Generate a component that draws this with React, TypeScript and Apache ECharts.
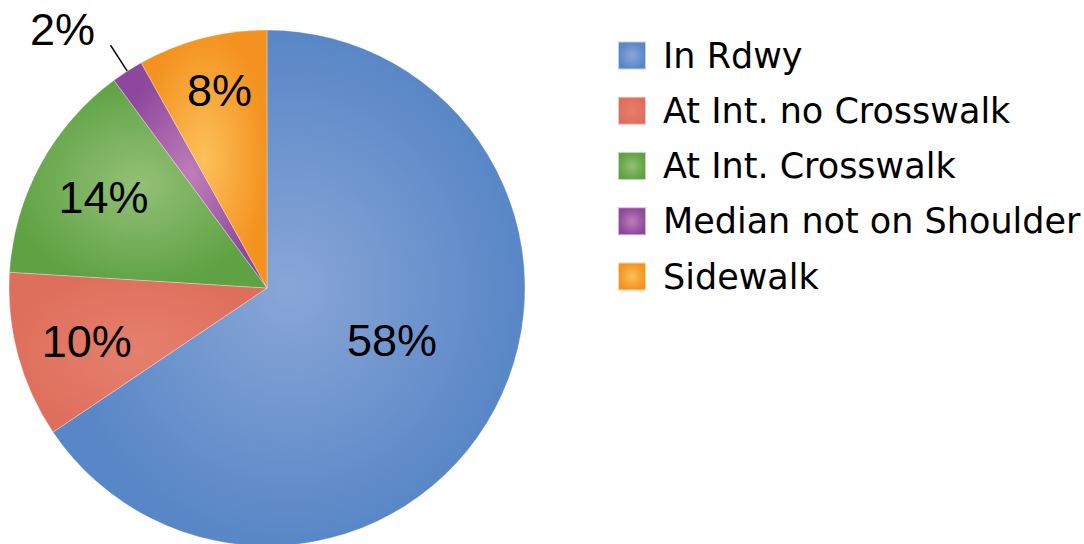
import React, { useEffect, useRef } from 'react';
import * as echarts from 'echarts';

const categories = ['In Rdwy', 'At Int. no Crosswalk', 'At Int. Crosswalk', 'Median not on Shoulder', 'Sidewalk'];
const shares = [65.5, 10.4, 13.9, 2.0, 8.1];
const labelTexts = ['58%', '10%', '14%', '2%', '8%'];

const edgeColors = ['#5886c6', '#df6f5d', '#5fa243', '#8d479c', '#f4921f'];
const centerColors = ['#89a6d7', '#e5806d', '#93c077', '#bf7db8', '#fcc05a'];

const CENTER = [267, 288];
const RADIUS = 258;
const labelRadius = [0.525, 0.728, 0.725, 1.276, 0.788];
const labelAngleShift = [-5.3, -1.2, 0.5, -5.6, 1.1];

export default function App() {
  const ref = useRef<HTMLDivElement>(null);
  useEffect(() => {
    document.body.style.margin = '0';
    const chart = echarts.init(ref.current!, null, { renderer: 'svg' });
    const total = shares.reduce((a, b) => a + b, 0);
    const mids: number[] = [];
    let acc = 0;
    shares.forEach((v) => {
      mids.push(((acc + v / 2) / total) * 360);
      acc += v;
    });
    const polar = (d: number, deg: number) => {
      const t = (deg * Math.PI) / 180;
      return [CENTER[0] + d * Math.sin(t), CENTER[1] - d * Math.cos(t)];
    };
    const grad = (i: number) =>
      new echarts.graphic.RadialGradient(0.5, 0.5, 0.5, [
        { offset: 0, color: centerColors[i] },
        { offset: 1, color: edgeColors[i] },
      ]);

    chart.setOption({
      animation: false,
      legend: {
        orient: 'vertical',
        left: 617,
        top: 36.5,
        padding: 0,
        itemWidth: 28,
        itemHeight: 28,
        itemGap: 17.25,
        icon: 'rect',
        data: categories,
        textStyle: {
          fontFamily: 'DejaVu Sans',
          fontSize: 35,
          lineHeight: 34,
          color: '#000',
          padding: [4, 0, 0, 12],
        },
      },
      series: [
        {
          type: 'pie',
          center: CENTER,
          radius: RADIUS,
          startAngle: 90,
          clockwise: true,
          itemStyle: { borderColor: 'rgba(255,255,255,0.6)', borderWidth: 0.5 },
          label: {
            show: true,
            position: 'inside',
            fontFamily: 'Liberation Sans',
            fontSize: 45,
            color: '#000',
            formatter: (p: any) => labelTexts[p.dataIndex],
          },
          labelLine: { show: false },
          labelLayout: (p: any) => {
            const i = p.dataIndex;
            const [x, y] = polar(labelRadius[i] * RADIUS, mids[i] + labelAngleShift[i]);
            const res: any = { x, y, align: 'center', verticalAlign: 'middle' };
            if (i === 3) {
              res.labelLinePoints = [polar(RADIUS, mids[i]), polar(RADIUS + 31, mids[i]), polar(RADIUS + 31, mids[i])];
            }
            return res;
          },
          data: categories.map((name, i) => ({
            name,
            value: shares[i],
            itemStyle: { color: grad(i) },
            label: i === 3 ? { position: 'outside' } : { position: 'inside' },
            labelLine: i === 3 ? { show: true, length: 31, length2: 0, lineStyle: { color: '#000', width: 1.5 } } : { show: false },
          })),
        },
      ],
    });
    return () => chart.dispose();
  }, []);
  return <div ref={ref} style={{ width: 1084, height: 544 }} />;
}
